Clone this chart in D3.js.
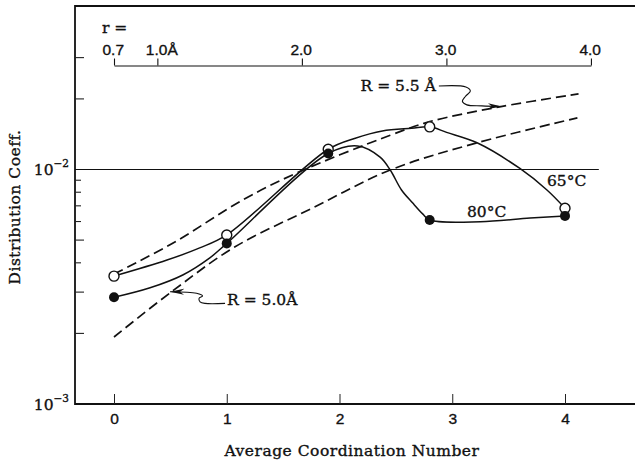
<!DOCTYPE html>
<html>
<head>
<meta charset="utf-8">
<script src="https://cdn.jsdelivr.net/npm/d3@7"></script>
<style>
body { margin: 0; background: #fff; }
svg { font-family: "DejaVu Serif", "Liberation Serif", serif; fill: #111; }
svg text { stroke: #111; stroke-width: 0.35px; }
</style>
</head>
<body>
<div id="chart"></div>
<script>
var w = 635;
var h = 464;
var plotLeft = 75, plotTop = 6, plotBottom = 404, plotRight = 635;
var fs = 15.5;

// measured points (average coordination number vs distribution coeff.)
var coordNumber = [0, 1, 1.9, 2.8, 4];
var coeff65 = [0.00351, 0.00526, 0.0122, 0.0152, 0.00684];
var coeff80 = [0.00285, 0.00484, 0.0117, 0.00609, 0.00634];

// hand drawn curves through the points
var curve65X = [0, 0.47, 0.76, 1, 1.9, 2.14, 2.38, 2.64, 2.8, 2.95, 3.22, 3.6, 3.84, 4];
var curve65Y = [0.00351, 0.00411, 0.00463, 0.00526, 0.0122, 0.0136, 0.0146, 0.0150, 0.0152, 0.0144, 0.0130, 0.0101, 0.00818, 0.00684];
var curve80X = [0, 0.32, 0.61, 0.85, 1, 1.9, 2.16, 2.36, 2.45, 2.55, 2.65, 2.74, 2.8, 3.25, 3.69, 4];
var curve80Y = [0.00285, 0.00313, 0.00355, 0.00420, 0.00484, 0.0117, 0.0126, 0.0113, 0.00995, 0.00818, 0.00719, 0.00645, 0.00609, 0.00599, 0.00621, 0.00634];

// dashed model curves
var r55X = [0, 0.54, 1.14, 1.62, 2.45, 2.8, 3.42, 4.12];
var r55Y = [0.00358, 0.00491, 0.00741, 0.00966, 0.0140, 0.0160, 0.0185, 0.0210];
var r50X = [0, 0.51, 1.07, 1.76, 2.45, 3.22, 4.11];
var r50Y = [0.00193, 0.00301, 0.00467, 0.00685, 0.00995, 0.0130, 0.0166];

// axes
var xTicks = [0, 1, 2, 3, 4];
var yMinorTicks = [0.002, 0.003, 0.004, 0.005, 0.006, 0.007, 0.008, 0.009, 0.02, 0.03];
var yMajorTicks = [0.01, 0.001];
var yMajorExp = ["\u22122", "\u22123"];
var rTicks = [0.7, 1.0, 2.0, 3.0, 4.0];
var rLabels = ["0.7", "1.0\u00c5", "2.0", "3.0", "4.0"];

var xScale = d3.scaleLinear()
               .domain([0, 4])
               .range([114, 565]);

var yScale = d3.scaleLog()
               .domain([0.001, 0.0498])
               .range([plotBottom, plotTop]);

var rScale = d3.scaleLinear()
               .domain([0.7, 4.0])
               .range([xScale(0), xScale(4.23)]);

var svg = d3.select("#chart")
            .append("svg")
            .attr("width", w)
            .attr("height", h);

svg.append("defs")
   .append("marker")
   .attr("id", "head")
   .attr("viewBox", "-14 -4 16 8")
   .attr("refX", 0)
   .attr("refY", 0)
   .attr("markerWidth", 16)
   .attr("markerHeight", 8)
   .attr("markerUnits", "userSpaceOnUse")
   .attr("orient", "auto")
   .append("path")
   .attr("d", "M-14,-3 L0,0 L-14,3 L-10,0 Z")
   .attr("fill", "#111");

// frame
svg.append("path")
   .attr("d", "M" + plotRight + "," + plotTop + "H" + plotLeft + "V" + plotBottom + "H" + plotRight)
   .attr("fill", "none")
   .attr("stroke", "#111")
   .attr("stroke-width", 1.8);

// 10^-2 reference line
svg.append("line")
   .attr("x1", plotLeft)
   .attr("x2", xScale(4.3))
   .attr("y1", yScale(0.01))
   .attr("y2", yScale(0.01))
   .attr("stroke", "#111")
   .attr("stroke-width", 1.1);

svg.selectAll(".ytick")
   .data(yMinorTicks)
   .enter()
   .append("line")
   .attr("class", "ytick")
   .attr("x1", plotLeft)
   .attr("x2", function(d) {
       var lead = Math.round(d / Math.pow(10, Math.floor(Math.log10(d) + 1e-9)));
       return plotLeft + (lead == 2 || lead == 3 || lead == 5 ? 9 : 6);
   })
   .attr("y1", function(d) { return yScale(d); })
   .attr("y2", function(d) { return yScale(d); })
   .attr("stroke", "#222")
   .attr("stroke-width", 1.1);

var yLab = svg.selectAll(".ylab")
   .data(yMajorTicks)
   .enter()
   .append("text")
   .attr("class", "ylab")
   .attr("x", 69)
   .attr("y", function(d) { return yScale(d) + 5.5; })
   .attr("text-anchor", "end")
   .attr("font-size", fs);
yLab.append("tspan").text("10");
yLab.append("tspan")
    .attr("dy", -8)
    .attr("font-size", 10.5)
    .text(function(d, i) { return yMajorExp[i]; });

var xAxis = d3.axisBottom(xScale)
              .tickValues(xTicks)
              .tickSize(-10)
              .tickPadding(9.4)
              .tickFormat(d3.format("d"));

svg.append("g")
   .attr("class", "x axis")
   .attr("transform", "translate(0," + plotBottom + ")")
   .call(xAxis)
   .call(function(g) { g.select(".domain").remove(); })
   .call(function(g) {
       g.selectAll("line").attr("stroke", "#222").attr("stroke-width", 1);
       g.selectAll("text").attr("font-size", fs).attr("font-family", null).attr("fill", "#111");
   });

// upper r axis
var rAxis = d3.axisTop(rScale)
              .tickValues(rTicks)
              .tickSize(7)
              .tickSizeOuter(0)
              .tickPadding(3.5)
              .tickFormat(function(d, i) { return rLabels[i]; });

svg.append("g")
   .attr("class", "r axis")
   .attr("transform", "translate(0,65.5)")
   .call(rAxis)
   .call(function(g) {
       g.select(".domain").attr("stroke", "#111").attr("stroke-width", 1.2);
       g.selectAll("line").attr("stroke", "#111").attr("stroke-width", 1.1);
       g.selectAll("text")
        .attr("font-size", fs)
        .attr("font-family", null)
        .attr("fill", "#111")
        .attr("text-anchor", "start")
        .attr("x", -12);
   });

svg.append("text")
   .attr("x", rScale(0.7) - 12)
   .attr("y", 33)
   .attr("font-size", fs)
   .text("r =");

// curves
var line = d3.line()
             .x(function(d) { return xScale(d[0]); })
             .y(function(d) { return yScale(d[1]); })
             .curve(d3.curveCatmullRom.alpha(0.5));

svg.append("path")
   .datum(d3.zip(r55X, r55Y))
   .attr("d", line)
   .attr("fill", "none")
   .attr("stroke", "#111")
   .attr("stroke-width", 1.7)
   .attr("stroke-dasharray", "10,5");

svg.append("path")
   .datum(d3.zip(r50X, r50Y))
   .attr("d", line)
   .attr("fill", "none")
   .attr("stroke", "#111")
   .attr("stroke-width", 1.7)
   .attr("stroke-dasharray", "10,5");

svg.append("path")
   .datum(d3.zip(curve65X, curve65Y))
   .attr("d", line)
   .attr("fill", "none")
   .attr("stroke", "#111")
   .attr("stroke-width", 1.5);

svg.append("path")
   .datum(d3.zip(curve80X, curve80Y))
   .attr("d", line)
   .attr("fill", "none")
   .attr("stroke", "#111")
   .attr("stroke-width", 1.5);

svg.selectAll(".open")
   .data(d3.zip(coordNumber, coeff65))
   .enter()
   .append("circle")
   .attr("class", "open")
   .attr("cx", function(d) { return xScale(d[0]); })
   .attr("cy", function(d) { return yScale(d[1]); })
   .attr("r", 5)
   .attr("fill", "#fff")
   .attr("stroke", "#111")
   .attr("stroke-width", 1.4);

svg.selectAll(".filled")
   .data(d3.zip(coordNumber, coeff80))
   .enter()
   .append("circle")
   .attr("class", "filled")
   .attr("cx", function(d) { return xScale(d[0]); })
   .attr("cy", function(d) { return yScale(d[1]); })
   .attr("r", 5)
   .attr("fill", "#111");

// curve labels
svg.append("text")
   .attr("x", xScale(3.84))
   .attr("y", yScale(0.00852))
   .attr("font-size", fs)
   .text("65\u00b0C");

svg.append("text")
   .attr("x", xScale(3.13))
   .attr("y", yScale(0.0063))
   .attr("font-size", fs)
   .text("80\u00b0C");

// annotation arrows, offsets relative to the arrow tip
var wiggle = d3.line().curve(d3.curveCatmullRom.alpha(0.5));

var tip55 = [xScale(3.44), yScale(0.01857)];
var path55 = [[-63, -20.5], [-36, -19.5], [-31.5, -15.5], [-36.5, -10], [-39.5, -5], [-35, -1.6], [-20, -0.6], [0, 0]];
svg.append("path")
   .attr("transform", "translate(" + tip55 + ")")
   .attr("d", wiggle(path55))
   .attr("fill", "none")
   .attr("stroke", "#111")
   .attr("stroke-width", 1.1)
   .attr("marker-end", "url(#head)");
svg.append("text")
   .attr("x", tip55[0] - 66)
   .attr("y", tip55[1] - 15)
   .attr("text-anchor", "end")
   .attr("font-size", fs)
   .text("R = 5.5 \u00c5");

var tip50 = [xScale(0.497), yScale(0.00301)];
var path50 = [[55, 11.6], [35, 11.6], [30, 10], [29, 6.6], [32.5, 4.2], [26.5, 1.5], [0, 0]];
svg.append("path")
   .attr("transform", "translate(" + tip50 + ")")
   .attr("d", wiggle(path50))
   .attr("fill", "none")
   .attr("stroke", "#111")
   .attr("stroke-width", 1.1)
   .attr("marker-end", "url(#head)");
svg.append("text")
   .attr("x", tip50[0] + 57)
   .attr("y", tip50[1] + 13.5)
   .attr("font-size", fs)
   .text("R = 5.0\u00c5");

// axis titles
svg.append("text")
   .attr("x", 352)
   .attr("y", 456)
   .attr("text-anchor", "middle")
   .attr("font-size", fs)
   .attr("letter-spacing", 0.5)
   .text("Average Coordination Number");

svg.append("text")
   .attr("transform", "translate(20,207) rotate(-90)")
   .attr("text-anchor", "middle")
   .attr("font-size", fs)
   .attr("letter-spacing", 0.5)
   .text("Distribution Coeff.");
</script>
</body>
</html>
